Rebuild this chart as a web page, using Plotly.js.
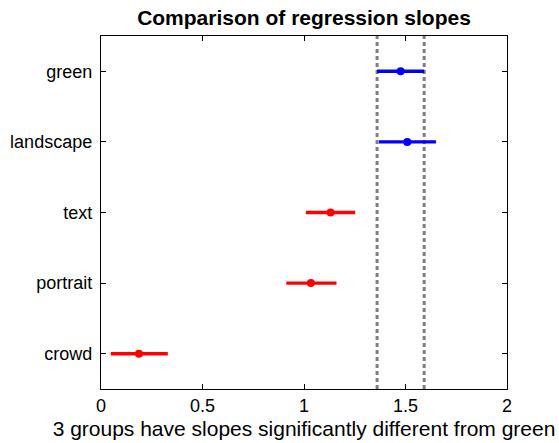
<!DOCTYPE html>
<html>
<head>
<meta charset="utf-8">
<script src="https://cdn.plot.ly/plotly-3.0.1.min.js"></script>
<style>html,body{margin:0;padding:0;background:#fff;}#chart{width:559px;height:443px;}</style>
</head>
<body>
<div id="chart"></div>
<script>
var groups = ["green", "landscape", "text", "portrait", "crowd"];
var positions = [1, 2, 3, 4, 5];
var means = [1.476, 1.509, 1.131, 1.034, 0.187];
var lower = [1.360, 1.369, 1.009, 0.913, 0.048];
var upper = [1.592, 1.650, 1.252, 1.160, 0.329];
var colors = ["#0000ff", "#0000ff", "#ff0000", "#ff0000", "#ff0000"];
var xTicks = [0, 0.5, 1, 1.5, 2];
var xTickText = ["0", "0.5", "1", "1.5", "2"];
var refIndex = 0;

var font = "Liberation Sans, Arial, Helvetica, sans-serif";
var traces = [];
for (var i = 0; i < groups.length; i++) {
  traces.push({
    type: "scatter", mode: "lines",
    x: [lower[i], upper[i]], y: [positions[i], positions[i]],
    line: {color: colors[i], width: 3.4}, hoverinfo: "skip", showlegend: false
  });
  traces.push({
    type: "scatter", mode: "markers",
    x: [means[i]], y: [positions[i]],
    marker: {color: colors[i], size: 8}, showlegend: false
  });
}

var shapes = [lower[refIndex], upper[refIndex]].map(function(v){
  return {type: "line", xref: "x", yref: "paper", x0: v, x1: v, y0: 0, y1: 1,
          line: {color: "#7f7f7f", width: 3, dash: "4px,3px"}, layer: "below"};
});

var layout = {
  width: 559, height: 443,
  margin: {l: 101, r: 52, t: 36, b: 54},
  paper_bgcolor: "#fff", plot_bgcolor: "#fff",
  font: {family: font, color: "#000", size: 18},
  title: {text: "<b>Comparison of regression slopes</b>", font: {family: font, size: 21, color: "#000"},
          x: 0.5, xanchor: "center", xref: "paper", y: 0.96, yanchor: "middle"},
  xaxis: {range: [0, 2], tickvals: xTicks, ticktext: xTickText, ticks: "inside", ticklen: 5,
          tickcolor: "#000", showline: true, linecolor: "#000", linewidth: 1.2, mirror: "ticks",
          showgrid: false, zeroline: false, tickfont: {size: 18},
          title: {text: "3 groups have slopes significantly different from green", font: {size: 21}, standoff: 6}},
  yaxis: {range: [5.5, 0.5], tickvals: positions, ticktext: groups, ticks: "inside", ticklen: 5,
          tickcolor: "#000", showline: true, linecolor: "#000", linewidth: 1.2, mirror: "ticks",
          showgrid: false, zeroline: false, tickfont: {size: 18}, ticklabelstandoff: 4},
  shapes: shapes
};
Plotly.newPlot("chart", traces, layout, {displayModeBar: false, staticPlot: true});
</script>
</body>
</html>
